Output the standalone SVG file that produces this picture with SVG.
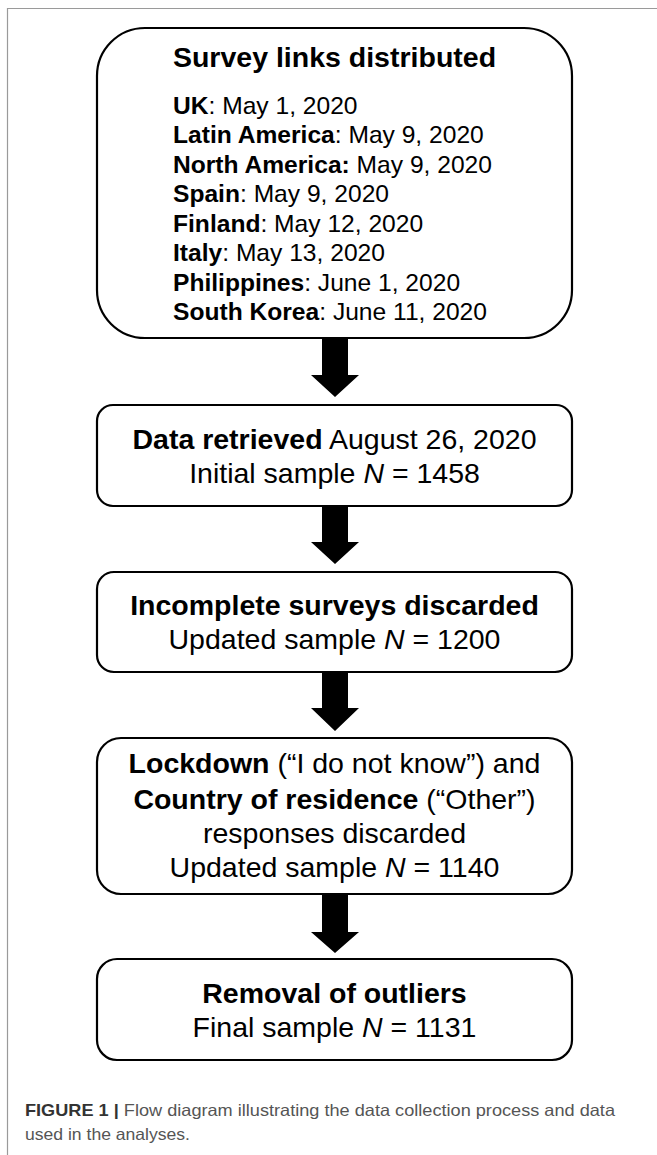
<svg xmlns="http://www.w3.org/2000/svg" width="657" height="1155" viewBox="0 0 657 1155">
<style>
.box{fill:#fff;stroke:#000;stroke-width:2.2}
.t{font-family:"Liberation Sans",Arial,sans-serif;fill:#000}
.c{text-anchor:middle}
.b{font-weight:bold}
.i{font-style:italic}
.arr{fill:#000}
.frame{stroke:#9a9a9a;stroke-width:1.2;fill:none}
.cap{font-family:"Liberation Sans",Arial,sans-serif;font-size:16.5px;fill:#555}
</style>
<rect width="657" height="1155" fill="#fff"/>
<path class="frame" d="M7.5,1155 V8.5 H657"/>

<g id="connectors">
<polygon class="arr" points="322,339 348,339 348,375 359,375 335,397 311,375 322,375"/>
<polygon class="arr" points="322,506 348,506 348,542 359,542 335,564 311,542 322,542"/>
<polygon class="arr" points="322,672 348,672 348,708 359,708 335,731 311,708 322,708"/>
<polygon class="arr" points="322,894 348,894 348,932 359,932 335,953 311,932 322,932"/>
</g>

<g id="node-survey">
<rect class="box" x="97" y="28" width="475" height="310" rx="48" ry="48"/>
<text class="t c b" x="334.5" y="67" font-size="28.5">Survey links distributed</text>
<g class="t" font-size="24.6">
<text x="173" y="113.5"><tspan class="b">UK</tspan>: May 1, 2020</text>
<text x="173" y="143"><tspan class="b">Latin America</tspan>: May 9, 2020</text>
<text x="173" y="172.5"><tspan class="b">North America:</tspan> May 9, 2020</text>
<text x="173" y="202"><tspan class="b">Spain</tspan>: May 9, 2020</text>
<text x="173" y="231.5"><tspan class="b">Finland</tspan>: May 12, 2020</text>
<text x="173" y="261"><tspan class="b">Italy</tspan>: May 13, 2020</text>
<text x="173" y="290.5"><tspan class="b">Philippines</tspan>: June 1, 2020</text>
<text x="173" y="320"><tspan class="b">South Korea</tspan>: June 11, 2020</text>
</g>
</g>

<g id="node-retrieved">
<rect class="box" x="97" y="405" width="475" height="101" rx="16" ry="16"/>
<text class="t c" x="334.5" y="449" font-size="28.5"><tspan class="b">Data retrieved</tspan> August 26, 2020</text>
<text class="t c" x="334.5" y="483" font-size="28.5">Initial sample <tspan class="i">N</tspan> = 1458</text>
</g>

<g id="node-incomplete">
<rect class="box" x="97" y="572" width="475" height="100" rx="17" ry="17"/>
<text class="t c b" x="334.5" y="615" font-size="28.5">Incomplete surveys discarded</text>
<text class="t c" x="334.5" y="649" font-size="28.5">Updated sample <tspan class="i">N</tspan> = 1200</text>
</g>

<g id="node-lockdown">
<rect class="box" x="97" y="738" width="475" height="156" rx="24" ry="24"/>
<text class="t c" x="334.5" y="773" font-size="28.5"><tspan class="b">Lockdown</tspan> (“I do not know”) and</text>
<text class="t c" x="334.5" y="809" font-size="28.5"><tspan class="b">Country of residence</tspan> (“Other”)</text>
<text class="t c" x="334.5" y="843" font-size="28.5">responses discarded</text>
<text class="t c" x="334.5" y="877" font-size="28.5">Updated sample <tspan class="i">N</tspan> = 1140</text>
</g>

<g id="node-outliers">
<rect class="box" x="97" y="959" width="475" height="101" rx="20" ry="20"/>
<text class="t c b" x="334.5" y="1003" font-size="28.5">Removal of outliers</text>
<text class="t c" x="334.5" y="1037" font-size="28.5">Final sample <tspan class="i">N</tspan> = 1131</text>
</g>

<g id="caption">
<text class="cap" x="25" y="1116" textLength="590" lengthAdjust="spacingAndGlyphs"><tspan font-weight="bold" fill="#333">FIGURE 1 |</tspan> Flow diagram illustrating the data collection process and data</text>
<text class="cap" x="25" y="1140" textLength="165" lengthAdjust="spacingAndGlyphs">used in the analyses.</text>
</g>
</svg>
